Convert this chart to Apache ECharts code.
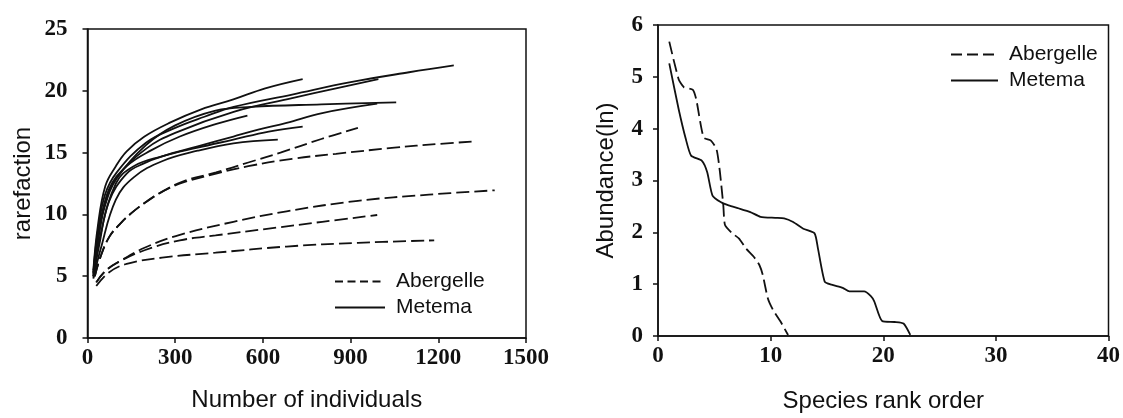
<!DOCTYPE html>
<html>
<head>
<meta charset="utf-8">
<script src="https://cdn.jsdelivr.net/npm/echarts@6/dist/echarts.min.js"></script>
<style>
  html, body { margin: 0; padding: 0; background: #fff; }
  #chart { width: 1123px; height: 418px; }
</style>
</head>
<body>
<div id="chart"></div>
<script>
// left panel: rarefaction curves, [individuals, rarefaction]
const abergelleCurves = [
  [[25, 5.0], [45, 6.6], [75, 8.2], [110, 9.2], [150, 10.1], [200, 11.0], [260, 11.9], [330, 12.7], [440, 13.4], [550, 14.2], [660, 15.0], [800, 16.1], [925, 17.0]],
  [[25, 5.0], [45, 6.6], [75, 8.2], [110, 9.2], [150, 10.1], [200, 11.0], [260, 11.9], [330, 12.6], [440, 13.3], [550, 13.9], [700, 14.5], [850, 14.9], [1050, 15.4], [1200, 15.7], [1326, 15.9]],
  [[30, 4.5], [60, 5.4], [110, 6.2], [195, 7.3], [316, 8.35], [499, 9.4], [681, 10.25], [925, 11.1], [1168, 11.6], [1393, 11.95]],
  [[30, 4.5], [60, 5.4], [110, 6.2], [195, 7.1], [316, 7.9], [438, 8.3], [620, 8.85], [803, 9.4], [991, 9.95]],
  [[30, 4.2], [73, 5.3], [134, 6.0], [255, 6.5], [438, 6.9], [681, 7.4], [925, 7.7], [1186, 7.9]],
]
const metemaCurves = [
  [[20, 5.5], [35, 9.0], [61, 12.3], [97, 13.9], [134, 15.1], [195, 16.3], [280, 17.4], [389, 18.5], [499, 19.3], [608, 20.2], [736, 20.95]],
  [[20, 5.3], [35, 8.6], [60, 11.6], [100, 13.4], [200, 15.8], [300, 17.0], [400, 17.9], [500, 18.7], [700, 19.7], [900, 20.7], [1100, 21.5], [1253, 22.05]],
  [[20, 5.2], [35, 8.2], [60, 11.0], [100, 13.0], [200, 15.3], [300, 16.6], [500, 18.3], [700, 19.4], [850, 20.2], [995, 20.95]],
  [[20, 5.0], [35, 7.8], [60, 10.7], [100, 12.9], [200, 15.6], [300, 17.2], [438, 18.4], [560, 18.7], [800, 18.9], [1056, 19.07]],
  [[20, 4.9], [40, 7.5], [73, 11.0], [134, 13.3], [195, 14.15], [255, 14.7], [377, 15.5], [499, 16.3], [584, 16.85], [681, 17.4], [803, 18.2], [991, 18.96]],
  [[20, 5.3], [40, 8.5], [73, 12.0], [134, 13.9], [219, 15.2], [316, 16.3], [438, 17.3], [547, 18.0]],
  [[20, 5.0], [40, 7.9], [97, 12.5], [158, 13.9], [255, 14.7], [377, 15.4], [499, 16.05], [620, 16.7], [736, 17.1]],
  [[20, 4.8], [45, 7.2], [97, 11.2], [158, 13.0], [255, 14.3], [377, 15.15], [499, 15.75], [651, 16.05]],
]

// right panel: rank-abundance, [rank, ln abundance]
const abergelleRank = [
  [1, 5.68], [1.84, 4.95], [2.3, 4.8], [3.1, 4.75], [3.4, 4.56], [4.05, 3.83], [4.7, 3.77], [5.2, 3.6], [5.5, 3.16],
  [5.8, 2.52], [5.95, 2.14], [6.6, 1.98], [7.2, 1.88], [7.8, 1.69], [8.5, 1.53], [9.0, 1.37], [9.3, 1.18],
  [9.75, 0.73], [10.2, 0.51], [10.85, 0.29], [11.55, 0.02],
]
const metemaRank = [
  [1, 5.26], [1.84, 4.37], [2.47, 3.8], [2.94, 3.48], [3.9, 3.38], [4.37, 3.16], [4.84, 2.71], [5.6, 2.58],
  [6.27, 2.52], [7.2, 2.46], [8.2, 2.39], [9.1, 2.3], [10.4, 2.28], [11.2, 2.27], [12.0, 2.2], [12.9, 2.07],
  [13.9, 1.98], [14.2, 1.69], [14.8, 1.05], [15.4, 0.99], [16.4, 0.93], [17.0, 0.86], [18.3, 0.86], [18.9, 0.77],
  [19.2, 0.67], [19.9, 0.29], [21.0, 0.27], [21.8, 0.24], [22.4, 0.02],
]

const SERIES_NAMES = ['Abergelle', 'Metema']
const DASH = [13, 5]
const INK = '#111'

const tickFont = { fontFamily: 'Liberation Serif', fontWeight: 'bold', fontSize: 23, color: INK, formatter: v => String(v) }
const nameFont = { fontFamily: 'Liberation Sans', fontSize: 24, color: INK }
const axisLine = { show: true, lineStyle: { color: INK, width: 1.5 } }
const axisTick = { show: true, length: 5, lineStyle: { color: INK, width: 1.5 } }

function curveSeries(name, data, idx, dashed, smooth) {
  return {
    name,
    type: 'line',
    xAxisIndex: idx,
    yAxisIndex: idx,
    data,
    smooth,
    symbol: 'none',
    silent: true,
    lineStyle: { color: INK, width: 1.8, type: dashed ? DASH : 'solid' },
    itemStyle: { color: INK },
  }
}

const series = [
  ...abergelleCurves.map(c => curveSeries(SERIES_NAMES[0], c, 0, true, 0.4)),
  ...metemaCurves.map(c => curveSeries(SERIES_NAMES[1], c, 0, false, 0.4)),
  curveSeries(SERIES_NAMES[0], abergelleRank, 1, true, 0.2),
  curveSeries(SERIES_NAMES[1], metemaRank, 1, false, 0.2),
]

function legendAt(left, top, width, dash) {
  return {
    orient: 'vertical',
    left,
    top,
    padding: 0,
    itemWidth: width,
    itemHeight: 4,
    itemGap: 5,
    selectedMode: false,
    textStyle: { fontFamily: 'Liberation Sans', fontSize: 21, color: INK, padding: [0, 0, 0, 6] },
    itemStyle: { opacity: 0 },
    data: [
      { name: SERIES_NAMES[0], lineStyle: { type: dash } },
      { name: SERIES_NAMES[1] },
    ],
  }
}

const chart = echarts.init(document.getElementById('chart'))
chart.setOption({
  animation: false,
  grid: [
    { left: 87.5, right: 597, top: 29, bottom: 80, show: true, borderColor: INK, borderWidth: 1.5 },
    { left: 658, right: 8, top: 25, bottom: 80, show: true, borderColor: INK, borderWidth: 1.5 },
  ],
  legend: [legendAt(334, 271, 50, [8, 4.5]), legendAt(950, 44, 47, [11, 5])],
  xAxis: [
    {
      type: 'value', gridIndex: 0, min: 0, max: 1500, interval: 300,
      name: 'Number of individuals', nameLocation: 'middle', nameGap: 50, nameTextStyle: nameFont,
      axisLine, axisTick, splitLine: { show: false },
      axisLabel: { ...tickFont, margin: 9 },
    },
    {
      type: 'value', gridIndex: 1, min: 0, max: 40, interval: 10,
      name: 'Species rank order', nameLocation: 'middle', nameGap: 53, nameTextStyle: nameFont,
      axisLine, axisTick, splitLine: { show: false },
      axisLabel: { ...tickFont, margin: 9 },
    },
  ],
  yAxis: [
    {
      type: 'value', gridIndex: 0, min: 0, max: 25, interval: 5,
      name: 'rarefaction', nameLocation: 'middle', nameGap: 52, nameTextStyle: nameFont,
      axisLine, axisTick, splitLine: { show: false },
      axisLabel: { ...tickFont, margin: 20 },
    },
    {
      type: 'value', gridIndex: 1, min: 0, max: 6, interval: 1,
      name: 'Abundance(ln)', nameLocation: 'middle', nameGap: 40, nameTextStyle: nameFont,
      axisLine, axisTick, splitLine: { show: false },
      axisLabel: { ...tickFont, margin: 15 },
    },
  ],
  series,
})
</script>
</body>
</html>
